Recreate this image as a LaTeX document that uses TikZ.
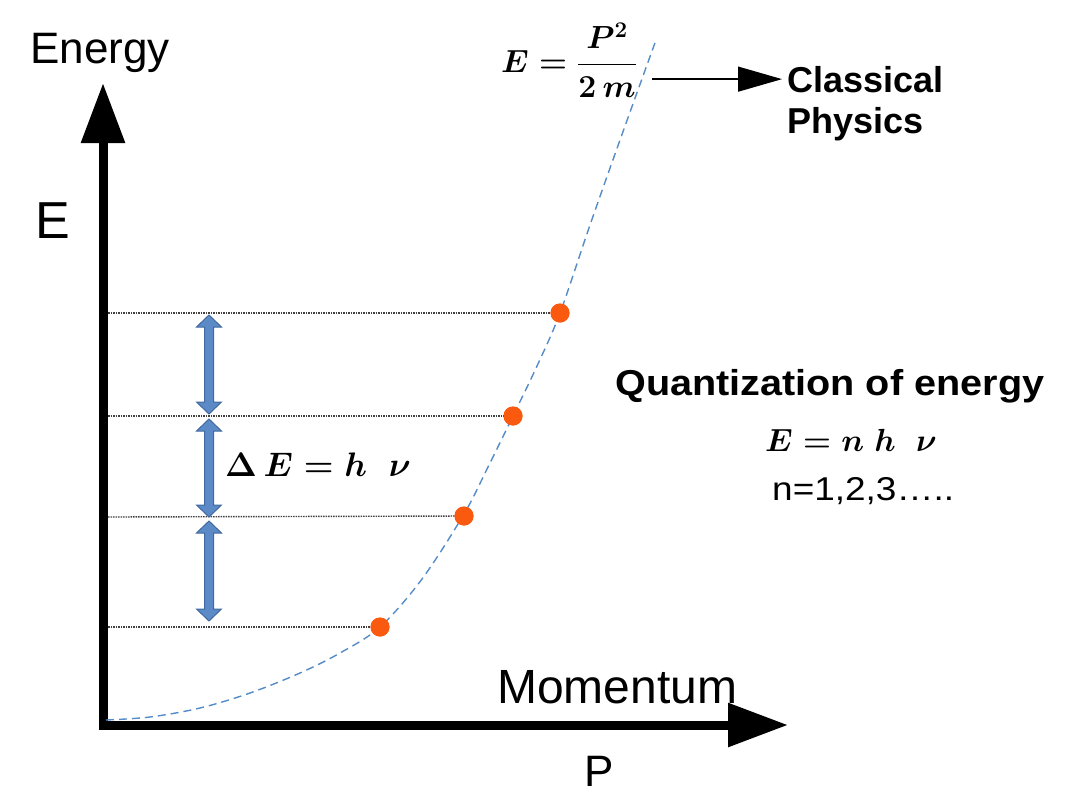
\RequirePackage{fix-cm}
\documentclass[tikz,border=0pt]{standalone}
\usepackage{fontspec}
\setmainfont{Liberation Sans}
\usepackage{amsmath}
\usetikzlibrary{arrows.meta}
\definecolor{lvlblue}{RGB}{91,138,198}
\definecolor{lvledge}{RGB}{65,105,160}
\definecolor{curveblue}{RGB}{85,140,200}
\definecolor{dotorange}{RGB}{250,90,15}
\newcommand\fsz[1]{\fontsize{#1}{#1}\selectfont}
\newcommand\vdarrow[3]{%
  \draw[blockarr] (#1,#2) -- ++(12.5,12) -- ++(-8,0) -- (#1+4.5,#3-12) -- ++(8,0)
    -- (#1,#3) -- ++(-12.5,-12) -- ++(8,0) -- (#1-4.5,#2+12) -- ++(-8,0) -- cycle;}
\begin{document}
\begin{tikzpicture}[x=1pt,y=-1pt,
  axis/.style={line width=9pt, line join=miter,
    {Triangle[length=60pt,width=42pt]}-{Triangle[length=60pt,width=42pt]}},
  curve/.style={curveblue, line width=1.4pt, dash pattern=on 8pt off 5pt},
  lvl/.style={black!75, line width=1.4pt, dash pattern=on 1.5pt off 1pt},
  blockarr/.style={fill=lvlblue, draw=lvledge, line width=1pt, line join=miter},
  dot/.style={circle, fill=dotorange, minimum size=19pt, inner sep=0pt},
  lbl/.style={inner sep=0pt, anchor=base west},
  thinarr/.style={line width=1.3pt, -{Triangle[length=44pt,width=25pt]}}
]
\useasboundingbox (0,0) rectangle (1065,796);

% axes
\coordinate (ytip) at (103,83);
\coordinate (xtip) at (788,725);
\draw[axis] (ytip) |- (xtip);

% classical curve
\draw[curve] plot[smooth, tension=0.55] coordinates {(106,720) (150,717) (200,708) (250,693) (300,673) (340,653) (380,627) (422,579) (464,514) (488,467) (513,416) (537,366) (560,313) (590,225) (620,140) (656,40)};

% energy levels
\coordinate (l1) at (108,313);
\coordinate (l2) at (108,416);
\coordinate (l3) at (108,517);
\coordinate (l4) at (108,627);
\node[dot] (d1) at (560,313) {};
\node[dot] (d2) at (513,416) {};
\node[dot] (d3) at (464,516) {};
\node[dot] (d4) at (380,627) {};
\draw[lvl] (l1) -- (d1.center);
\draw[lvl] (l2) -- (d2.center);
\draw[lvl] (l3) -- (d3.center);
\draw[lvl] (l4) -- (d4.center);
\node[dot] at (d1) {};
\node[dot] at (d2) {};
\node[dot] at (d3) {};
\node[dot] at (d4) {};

% delta E arrows
\vdarrow{209}{315}{414}
\vdarrow{209}{419}{517}
\vdarrow{209}{521}{621}

% labels
\node[lbl, font=\fsz{44}] (energy) at (30,63) {Energy};
\node[lbl, font=\fsz{52}] (elab) at (35,238) {E};
\node[lbl, font=\fsz{48}] (mom) at (497,703) {Momentum};
\node[lbl, font=\fsz{44}] (plab) at (584,786) {P};

\node[inner sep=0pt, font=\fsz{32}\boldmath] (cp) at (569,60) {$\displaystyle E=\frac{P^{2}}{2\,m}$};
\node[lbl, font=\fsz{36}\bfseries] (cl1) at (787,92) {Classical};
\node[lbl, font=\fsz{36}\bfseries] (cl2) at (787,133) {Physics};
\draw[thinarr] ([xshift=15pt]cp.east |- cl1.west) -- ([xshift=-5pt]cl1.west);

\node[inner sep=0pt, font=\fsz{34}\boldmath] (de) at (318,465) {$\Delta\,E=h\;\;\nu$};

\node[lbl, font=\fsz{36}\bfseries] (qe) at (615,395) {\scalebox{1.1}[1]{Quantization of energy}};
\node[inner sep=0pt, font=\fsz{32}\boldmath] (enh) at (851,440) {$E=n\;h\;\;\nu$};
\node[lbl, font=\fsz{33}] (nval) at (772,500) {\scalebox{1.12}[1]{n=1,2,3…..}};
\end{tikzpicture}
\end{document}
